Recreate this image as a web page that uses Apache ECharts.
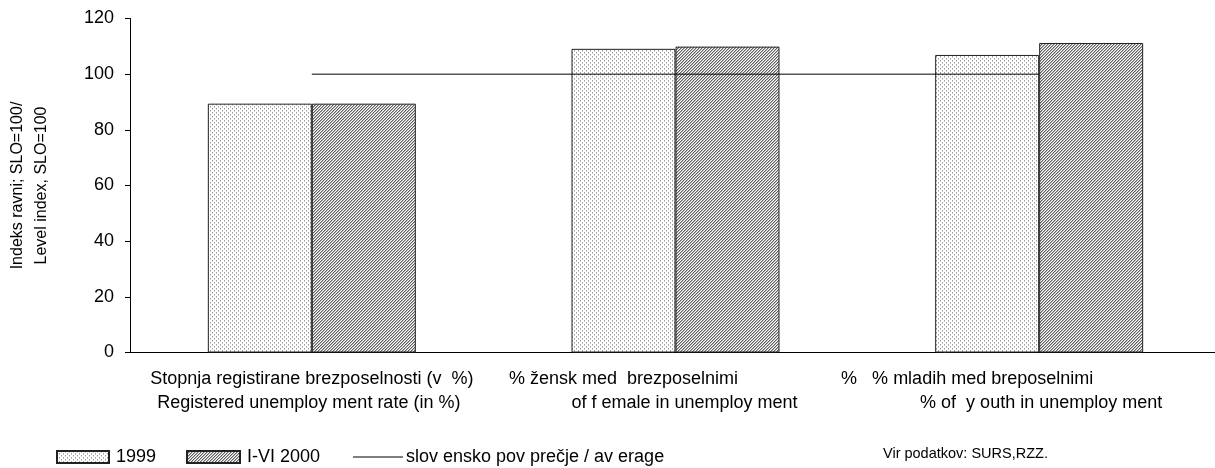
<!DOCTYPE html>
<html>
<head>
<meta charset="utf-8">
<script src="https://cdn.jsdelivr.net/npm/echarts@6/dist/echarts.min.js"></script>
<style>
	html,body{margin:0;padding:0;background:#fff;}
	#chart{width:1215px;height:468px;}
</style>
</head>
<body>
<div id="chart"></div>
<script>
	// podatki / data
	var categories = ['cat1','cat2','cat3'];
	var labelTop = [
		'Stopnja registirane brezposelnosti (v  %)',
		'% žensk med  brezposelnimi',
		'%   % mladih med breposelnimi'
	];
	var labelBottom = [
		'Registered unemploy ment rate (in %)',
		'of f emale in unemploy ment',
		'% of  y outh in unemploy ment'
	];
	var values1999 = [89.4, 109.1, 106.9];
	var values2000 = [89.4, 109.9, 111.2];
	var average = [100, 100, 100];
	var yTicks = [0, 120, 20];   // min, max, interval

	// horizontal shift of each label line (px), negative = left
	var shiftTop = [0, -52, -72];
	var shiftBottom = [-3, 9, 2];

	var FONT = 'Liberation Sans, Arial, sans-serif';

	function makePattern(w, h, draw){
		var c = document.createElement('canvas');
		c.width = w; c.height = h;
		var ctx = c.getContext('2d');
		ctx.fillStyle = '#fff';
		ctx.fillRect(0,0,w,h);
		draw(ctx);
		return {image: c, repeat: 'repeat'};
	}
	// 1999 - pikice
	var dots = makePattern(4, 4, function(ctx){
		ctx.fillStyle = '#999';
		ctx.fillRect(0,0,1,1);
		ctx.fillRect(2,2,1,1);
		ctx.fillStyle = '#ccc';
		ctx.fillRect(0,1,1,1);
		ctx.fillRect(2,3,1,1);
	});
	// I-VI 2000 - diagonalne črte
	var hatch = makePattern(3, 3, function(ctx){
		for(var y=0;y<3;y++){
			ctx.fillStyle = '#606060';
			ctx.fillRect(2-y,y,1,1);
			ctx.fillStyle = '#b4b4b4';
			ctx.fillRect((3-y)%3,y,1,1);
		}
	});

	function pad(s){
		return s < 0 ? [0, -2*s, 0, 0] : [0, 0, 0, 2*s];
	}
	var rich = {};
	for(var i=0;i<categories.length;i++){
		rich['a'+i] = { fontFamily: FONT, fontSize: 18, color:'#000', lineHeight: 24, padding: pad(shiftTop[i]) };
		rich['b'+i] = { fontFamily: FONT, fontSize: 18, color:'#000', lineHeight: 24, padding: pad(shiftBottom[i]) };
	}

	var legendText = {fontFamily:FONT, fontSize:18, color:'#000', padding:[0,0,0,2]};

	var chart = echarts.init(document.getElementById('chart'), null, {renderer:'canvas'});
	chart.setOption({
		animation: false,
		backgroundColor: '#fff',
		textStyle: {fontFamily: FONT},
		grid: {left: 130, top: 18.5, width: 1091, height: 334, containLabel: false, outerBoundsMode: 'none'},
		legend: [
			{ data:[{name:'1999', icon:'rect'}], left: 51, top: 443, itemWidth: 52, itemHeight: 12, textStyle: legendText },
			{ data:[{name:'I-VI 2000', icon:'rect'}], left: 181, top: 443, itemWidth: 53, itemHeight: 12, textStyle: legendText },
			{ data:[{name:'slov ensko pov prečje / av erage', icon:'rect'}], left: 348, top: 443,
			  itemWidth: 50, itemHeight: 1, textStyle: {fontFamily:FONT, fontSize:18, color:'#000', padding:[0,0,0,-2]} },
		],
		graphic: [{
			type:'text', left: 883, top: 446,
			style:{text:'Vir podatkov: SURS,RZZ.', fontFamily:FONT, fontSize:14.5, fill:'#000'}
		}],
		xAxis: {
			type: 'category',
			data: categories,
			axisLine: {lineStyle:{color:'#000', width:1}},
			axisTick: {length: 5, lineStyle:{color:'#000'}},
			axisLabel: {
				interval: 0,
				hideOverlap: false,
				margin: 15,
				formatter: function(v, idx){
					return '{a'+idx+'|'+labelTop[idx]+'}\n{b'+idx+'|'+labelBottom[idx]+'}';
				},
				rich: rich
			}
		},
		yAxis: {
			type: 'value',
			min: yTicks[0], max: yTicks[1], interval: yTicks[2],
			name: 'Indeks ravni; SLO=100/\nLevel index, SLO=100',
			nameLocation: 'middle',
			nameGap: 76,
			nameTextStyle: {fontFamily:FONT, fontSize:16, color:'#000', lineHeight: 24},
			splitLine: {show:false},
			axisLine: {show:true, lineStyle:{color:'#000', width:1}},
			axisTick: {show:true, length: 5, lineStyle:{color:'#000'}},
			axisLabel: {fontFamily:FONT, fontSize:18, color:'#000', margin: 16}
		},
		series: [
			{
				name: '1999', type: 'bar', data: values1999,
				barWidth: 104, barGap: '0%',
				itemStyle: {color: dots, borderColor:'#222', borderWidth: 1}
			},
			{
				name: 'I-VI 2000', type: 'bar', data: values2000,
				barWidth: 104, barGap: '0%',
				itemStyle: {color: hatch, borderColor:'#222', borderWidth: 1}
			},
			{
				name: 'slov ensko pov prečje / av erage', type: 'line', data: average,
				symbol: 'none', z: 5,
				lineStyle: {color:'#000', width: 1},
				itemStyle: {color:'#000'}
			}
		]
	});
</script>
</body>
</html>
